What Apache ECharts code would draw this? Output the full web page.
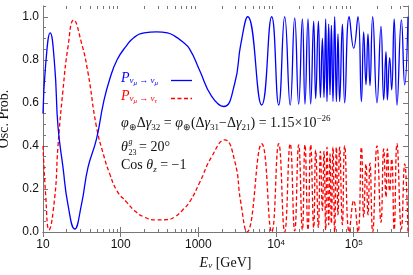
<!DOCTYPE html>
<html><head><meta charset="utf-8">
<script src="https://cdn.jsdelivr.net/npm/echarts@6/dist/echarts.min.js"></script>
<style>html,body{margin:0;padding:0;background:#fff}#c{width:413px;height:275px}</style>
</head><body><div id="c"></div>
<script>
// P(nu_mu -> nu_mu), blue solid
const energyMuMu = [10,10.83,12.38,14.15,15.6,18.09,20.98,25.59,31.21,37.96,48.69,60,72.23,90,118.5,150,200,290.9,400,496,620,773,1040,1485,2120,2937,3509,
  4320,6540,8790,10820,12930,15220,17390,19570,21840,23590,25790,27940,30540,32400,35110,37250,39520,41440,43580,45290,47630,49510,51610,54110,
  56900,59840,62750,65980,71500,76540,87460,100000,113500,125600,134400,143900,152700,162000,175500,199400,224500,243200,260400,271400,290600,
  308300,332000,360800,411000,453200,500000];
const probMuMu = [0.55,0.78,0.925,0.77,0.49,0.30,0.126,0.014,0.126,0.30,0.43,0.60,0.71,0.80,0.865,0.905,0.925,0.93,0.925,0.91,0.885,0.85,0.75,0.63,0.583,0.69,0.87,
  1.0,0.59,1.0,0.59,1.0,0.59,0.995,0.594,0.99,0.594,0.99,0.594,0.98,0.62,0.98,0.625,0.90,0.625,0.99,0.606,0.966,0.637,0.96,0.606,
  1.0,0.606,0.92,0.606,0.966,0.60,1.0,0.854,1.0,0.606,0.93,0.684,0.92,0.68,1.0,0.60,0.955,0.614,0.838,0.614,0.81,
  0.66,0.99,0.59,0.986,0.684,1.0];
// P(nu_mu -> nu_tau), red dashed
const energyMuTau = [10,10.83,11.95,14.15,15.6,18.09,20.98,24.84,31.21,37.96,48.69,60,72.23,90,118.5,150,200,290.9,400,496,620,773,1040,1485,2183,2937,3509,
  4227,6540,8790,10820,12930,15220,17390,19570,21840,23590,25790,27940,30540,32400,35110,37250,39520,41440,43580,45290,47630,49510,51610,54110,
  56900,59840,62750,65980,71500,76540,87460,100000,113500,125600,134400,143900,152700,162000,175500,199400,224500,243200,260400,271400,290600,
  308300,332000,360800,411000,453200,500000];
const probMuTau = [0.40,0.17,0.01,0.16,0.40,0.66,0.86,0.985,0.88,0.74,0.49,0.36,0.27,0.19,0.14,0.10,0.07,0.056,0.058,0.07,0.10,0.14,0.23,0.35,0.428,0.33,0.14,
  0.0,0.41,0.0,0.41,0.0,0.41,0.005,0.405,0.01,0.405,0.01,0.405,0.02,0.38,0.02,0.375,0.10,0.375,0.01,0.394,0.034,0.363,0.04,0.394,
  0.0,0.394,0.08,0.394,0.034,0.40,0.0,0.146,0.0,0.394,0.07,0.316,0.08,0.32,0.0,0.40,0.045,0.386,0.162,0.386,0.19,
  0.34,0.01,0.41,0.014,0.316,0.0];
const xTickValues = [10,100,1000,10000,100000];
const xTickLabels = ['10','100','1000','10{s|4}','10{s|5}'];
const xMinorTicks = [20,30,40,50,60,70,80,90,200,300,400,500,600,700,800,900,2000,3000,4000,5000,6000,7000,8000,9000,
  20000,30000,40000,50000,60000,70000,80000,90000,200000,300000,400000];

const AX = '#777';
const blue = energyMuMu.map((e,i)=>[e, probMuMu[i]]);
const red = energyMuTau.map((e,i)=>[e, probMuTau[i]]);
const serif = 'Liberation Serif';
const sans = 'Liberation Sans';

const chart = echarts.init(document.getElementById('c'), null, {renderer:'canvas'});
const yBase = {type:'value', min:0, max:1.05, splitLine:{show:false}};
const txt = (fill, size) => ({
  i:{fontFamily:serif, fontStyle:'italic', fontSize:size, lineHeight:size+4, fill:fill, verticalAlign:'middle'},
  n:{fontFamily:serif, fontSize:size, lineHeight:size+4, fill:fill, verticalAlign:'middle'},
  sub:{fontFamily:serif, fontSize:9, lineHeight:9, fill:fill, verticalAlign:'bottom'},
  isub:{fontFamily:serif, fontStyle:'italic', fontSize:9, lineHeight:9, fill:fill, verticalAlign:'bottom'},
  sup:{fontFamily:serif, fontSize:9, lineHeight:9, fill:fill, verticalAlign:'top'}});
const legRich = (fill) => ({
  P:{fontFamily:serif, fontStyle:'italic', fontSize:14, lineHeight:18, fill:fill, verticalAlign:'middle'},
  s:{fontFamily:serif, fontStyle:'italic', fontSize:9, lineHeight:9, fill:fill, verticalAlign:'bottom', padding:[0,0,2,0]},
  ss:{fontFamily:serif, fontStyle:'italic', fontSize:7, lineHeight:7, fill:fill, verticalAlign:'bottom'}});
chart.setOption({
  animation:false,
  grid:{left:43, right:5, top:6, bottom:43, containLabel:false, outerBoundsMode:'none'},
  xAxis:[
    {type:'log', logBase:10, min:10, max:500000, position:'bottom',
     axisLine:{lineStyle:{color:AX, width:1}}, splitLine:{show:false},
     axisTick:{inside:true, length:5, lineStyle:{color:AX}},
     axisLabel:{margin:7, color:'#111', fontFamily:sans, fontSize:12, showMaxLabel:false,
       formatter:(v)=>{const i=xTickValues.findIndex(t=>Math.abs(t-v)/t<1e-6); return i>=0?xTickLabels[i]:'';},
       rich:{s:{fontSize:8, fontFamily:sans, color:'#111', verticalAlign:'top', lineHeight:8}}},
     name:'{i|E}{s|ν} [GeV]', nameLocation:'middle', nameGap:24,
     nameTextStyle:{fontFamily:serif, fontSize:14, color:'#111',
       rich:{i:{fontStyle:'italic', fontFamily:serif, fontSize:14, color:'#111'}, s:{fontStyle:'italic', fontFamily:serif, fontSize:9, color:'#111', verticalAlign:'bottom', lineHeight:9}}}},
    {type:'log', logBase:10, min:10, max:500000, position:'top',
     axisLine:{lineStyle:{color:AX, width:1}}, splitLine:{show:false},
     axisTick:{inside:true, length:5, lineStyle:{color:AX}}, axisLabel:{show:false}}
  ],
  yAxis:[
    Object.assign({}, yBase, {position:'left', interval:0.2,
     axisLine:{show:true, lineStyle:{color:AX}}, axisTick:{inside:true, length:5, lineStyle:{color:AX}},
     axisLabel:{margin:4, color:'#111', fontFamily:sans, fontSize:12, showMaxLabel:false, formatter:(v)=>v.toFixed(1)},
     name:'Osc. Prob.', nameLocation:'middle', nameGap:29, nameTextStyle:{fontFamily:serif, fontSize:14, color:'#111'}}),
    Object.assign({}, yBase, {position:'left', interval:0.05, axisLine:{show:false},
     axisTick:{inside:true, length:3, lineStyle:{color:AX}}, axisLabel:{show:false}}),
    Object.assign({}, yBase, {position:'right', interval:0.2,
     axisLine:{show:true, lineStyle:{color:AX}}, axisTick:{inside:true, length:5, lineStyle:{color:AX}}, axisLabel:{show:false}}),
    Object.assign({}, yBase, {position:'right', interval:0.05, axisLine:{show:false},
     axisTick:{inside:true, length:3, lineStyle:{color:AX}}, axisLabel:{show:false}})
  ],
  series:[
    {type:'custom', xAxisIndex:0, yAxisIndex:0, silent:true, clip:false, z:1,
     data: xMinorTicks.map(v=>[v,0]),
     renderItem:(params, api)=>{
       const x = Math.round(api.coord([api.value(0), 0])[0]) + 0.5;
       const cs = params.coordSys; const yb = cs.y + cs.height; const yt = cs.y;
       return {type:'group', children:[
         {type:'line', shape:{x1:x, y1:yb, x2:x, y2:yb-3}, style:{stroke:AX, lineWidth:1}},
         {type:'line', shape:{x1:x, y1:yt, x2:x, y2:yt+3}, style:{stroke:AX, lineWidth:1}}]};
     }},
    {type:'line', data:red, smooth:0.5, showSymbol:false, clip:true, z:3,
     lineStyle:{color:'#ff0000', width:1.3, type:[4,2.5]}},
    {type:'line', data:blue, smooth:0.5, showSymbol:false, clip:true, z:4,
     lineStyle:{color:'#0000ff', width:1.3}}
  ],
  graphic:[
    {type:'text', left:121, top:71, style:{text:'{P|P}{s|ν}{ss|μ}{s| → ν}{ss|μ}', rich:legRich('#0000ff')}},
    {type:'line', shape:{x1:171, y1:80.5, x2:192, y2:80.5}, style:{stroke:'#0000ff', lineWidth:1.3}},
    {type:'text', left:121, top:89, style:{text:'{P|P}{s|ν}{ss|μ}{s| → ν}{ss|τ}', rich:legRich('#ff0000')}},
    {type:'line', shape:{x1:171, y1:98.5, x2:192, y2:98.5}, style:{stroke:'#ff0000', lineWidth:1.3, lineDash:[4,2.5]}},
    {type:'text', left:121, top:114, style:{text:'{i|φ}{sub|⊕}{n|Δ}{i|γ}{sub|32}{n| = }{i|φ}{sub|⊕}{n|(Δ}{i|γ}{sub|31}{n|−Δ}{i|γ}{sub|21}{n|) = 1.15×10}{sup|−26}', rich:txt('#111', 14)}},
    {type:'text', left:121, top:140, style:{text:'θ', font:'italic 14px "Liberation Serif"', fill:'#111'}},
    {type:'text', left:128.5, top:138, style:{text:'g', font:'italic 8px "Liberation Serif"', fill:'#111'}},
    {type:'text', left:128.5, top:149, style:{text:'23', font:'8px "Liberation Serif"', fill:'#111'}},
    {type:'text', left:139, top:140, style:{text:'= 20°', font:'14px "Liberation Serif"', fill:'#111'}},
    {type:'text', left:121, top:158, style:{text:'{n|Cos }{i|θ}{isub|z}{n| = −1}', rich:txt('#111', 14)}}
  ]
});
</script></body></html>
